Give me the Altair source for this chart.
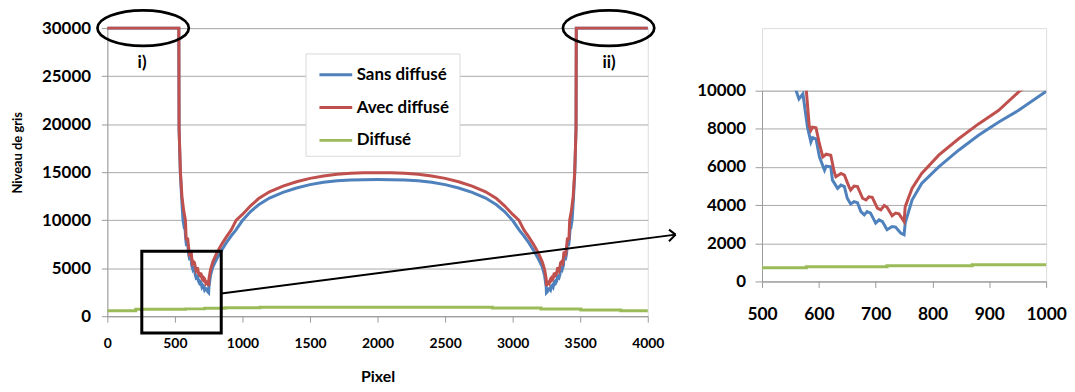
import altair as alt
import pandas as pd

FONT = "Lato"
GRID = "#a9a9a9"
AXIS = "#9a9a9a"

series_names = ["Sans diffusé", "Avec diffusé", "Diffusé"]
series_colors = ["#4F81BD", "#C0504D", "#9BBB59"]

# --- Sans diffusé (blue) ---
sans_x = [0, 529, 531, 540, 550, 560, 565, 572, 580, 586, 589, 595, 601, 610, 613, 621, 624, 633,
          639, 645, 650, 656, 662, 668, 674, 680, 685, 691, 700, 706, 712, 720, 729, 735, 744, 750,
          752, 764, 781, 811, 846, 881, 916, 951, 997, 1060, 1120, 1200, 1300, 1400, 1500, 1600,
          1700, 1800, 1900, 2000, 2100, 2200, 2300, 2400, 2500, 2600, 2700, 2800, 2880, 2940, 3003,
          3049, 3084, 3119, 3154, 3189, 3219, 3236, 3248, 3250, 3256, 3265, 3271, 3280, 3288, 3294,
          3300, 3309, 3315, 3320, 3326, 3332, 3338, 3344, 3350, 3355, 3361, 3367, 3376, 3379, 3387,
          3390, 3399, 3405, 3411, 3414, 3420, 3428, 3435, 3440, 3450, 3460, 3469, 3471, 4000]
sans_y = [30000, 30000, 19500, 15000, 12300, 10000, 9570, 9830, 8090, 7310, 7540, 7480, 6530, 5830,
          6040, 6010, 5310, 4880, 5050, 4970, 4360, 4060, 4180, 4130, 3660, 3490, 3660, 3580, 3060,
          3230, 3140, 2710, 2880, 2850, 2540, 2450, 3060, 4270, 5140, 6010, 6880, 7660, 8350, 8960,
          9910, 10900, 11600, 12300, 12900, 13350, 13700, 13950, 14100, 14180, 14220, 14230, 14220,
          14180, 14100, 13950, 13700, 13350, 12900, 12300, 11600, 10900, 9910, 8960, 8350, 7660,
          6880, 6010, 5140, 4270, 3060, 2450, 2540, 2850, 2880, 2710, 3140, 3230, 3060, 3580, 3660,
          3490, 3660, 4130, 4180, 4060, 4360, 4970, 5050, 4880, 5310, 6010, 6040, 5830, 6530, 7480,
          7540, 7310, 8090, 9830, 9570, 10000, 12300, 15000, 19500, 30000, 30000]

# --- Avec diffusé (red) ---
avec_x = [0, 529, 531, 541, 552, 565, 578, 583, 586, 589, 595, 601, 607, 613, 621, 627, 630, 639,
          645, 653, 656, 662, 668, 677, 683, 688, 694, 703, 709, 715, 720, 729, 735, 741, 750, 752,
          764, 781, 811, 846, 881, 916, 954, 1000, 1060, 1120, 1200, 1300, 1400, 1500, 1600, 1700,
          1800, 1900, 2000, 2100, 2200, 2300, 2400, 2500, 2600, 2700, 2800, 2880, 2940, 3000, 3046,
          3084, 3119, 3154, 3189, 3219, 3236, 3248, 3250, 3259, 3265, 3271, 3280, 3285, 3291, 3297,
          3306, 3312, 3317, 3323, 3332, 3338, 3344, 3347, 3355, 3361, 3370, 3373, 3379, 3387, 3393,
          3399, 3405, 3411, 3414, 3417, 3422, 3435, 3448, 3459, 3469, 3471, 4000]
avec_y = [30000, 30000, 19500, 15000, 12500, 11000, 10000, 8180, 7920, 8090, 8060, 7220, 6530, 6670,
          6620, 5750, 5490, 5660, 5570, 4970, 4790, 5000, 4970, 4360, 4270, 4440, 4410, 3840, 3750,
          3980, 3890, 3440, 3580, 3540, 3140, 3920, 4880, 5660, 6620, 7480, 8260, 8960, 10000, 10600,
          11500, 12250, 12950, 13550, 14000, 14350, 14600, 14780, 14880, 14930, 14950, 14930, 14880,
          14780, 14600, 14350, 14000, 13550, 12950, 12250, 11500, 10600, 10000, 8960, 8260, 7480,
          6620, 5660, 4880, 3920, 3140, 3540, 3580, 3440, 3890, 3980, 3750, 3840, 4410, 4440, 4270,
          4360, 4970, 5000, 4790, 4970, 5570, 5660, 5490, 5750, 6620, 6670, 6530, 7220, 8060, 8090,
          7920, 8180, 10000, 11000, 12500, 15000, 19500, 30000, 30000]

# --- Diffusé (green, stepwise) ---
diff_x = [0, 210, 578, 720, 870, 1130, 2850, 3210, 3505, 3800, 4000]
diff_y = [580, 715, 765, 818, 870, 929, 860, 740, 650, 580, 580]

# ticks
main_x_ticks = [0, 500, 1000, 1500, 2000, 2500, 3000, 3500, 4000]
main_y_ticks = [0, 5000, 10000, 15000, 20000, 25000, 30000]
inset_x_ticks = [500, 600, 700, 800, 900, 1000]
inset_y_ticks = [0, 2000, 4000, 6000, 8000, 10000]

# annotations (data coordinates of the main panel)
ellipse_x = [265, 3710]
ellipse_y = [30000, 30000]
label_text = ["i)", "ii)"]
label_x = [257, 3713]
label_y = [26355, 26355]
box_x = [255]
box_x2 = [843]
box_y = [-1755]
box_y2 = [6772]
arrow_x = [843, 4157, 4157]
arrow_y = [2374, 9012, 7804]
arrow_x2 = [4206, 4206, 4206]
arrow_y2 = [8496, 8496, 8496]

ELLIPSE = ("M -1 0 C -1 -0.215 -0.5523 -0.39 0 -0.39 C 0.5523 -0.39 1 -0.215 1 0 "
           "C 1 0.215 0.5523 0.39 0 0.39 C -0.5523 0.39 -1 0.215 -1 0 Z")

df_sans = pd.DataFrame({"x": sans_x, "v": sans_y, "series": series_names[0]})
df_avec = pd.DataFrame({"x": avec_x, "v": avec_y, "series": series_names[1]})
df_diff = pd.DataFrame({"x": diff_x, "v": diff_y, "series": series_names[2]})

lab = dict(labelFont=FONT, labelFontWeight="bold", labelColor="#000000")

X_main = alt.X("x:Q", scale=alt.Scale(domain=[0, 4000], nice=False),
               axis=alt.Axis(values=main_x_ticks, format="d", grid=False, domainColor=AXIS,
                             tickColor=AXIS, tickSize=6, labelFontSize=14, labelPadding=14,
                             labelFlush=False, labelOverlap=False,
                             title="Pixel", titleFont=FONT, titleFontSize=16, titleFontWeight="bold",
                             titleColor="#000000", titleY=60.5, titleBaseline="middle", **lab))
Y_main = alt.Y("v:Q", scale=alt.Scale(domain=[0, 30000], nice=False),
               axis=alt.Axis(values=main_y_ticks, format="d", grid=True, gridColor=GRID,
                             domainColor=AXIS, tickColor=AXIS, tickSize=6, labelFontSize=17,
                             labelPadding=11, title="Niveau de gris", titleFont=FONT,
                             titleFontSize=13, titleFontWeight="bold", titleColor="#000000",
                             titleX=-90, titleY=125, titleBaseline="middle", titleAlign="center",
                             **lab))

legend_main = alt.Legend(orient="none", legendX=212, legendY=29, title=None, symbolType="stroke",
                         symbolSize=1089, symbolStrokeWidth=3, labelFont=FONT, labelFontSize=17,
                         labelFontWeight="bold", labelColor="#000000", labelOffset=3, rowPadding=7,
                         padding=0)
color_main = alt.Color("series:N", scale=alt.Scale(domain=series_names, range=series_colors),
                       legend=legend_main)

legend_box = alt.Chart(pd.DataFrame({"a": [0]})).mark_rect(
    fill="white", stroke="#d9d9d9", strokeWidth=1).encode(
    x=alt.value(200), x2=alt.value(355), y=alt.value(26), y2=alt.value(129))

blue = alt.Chart(df_sans).mark_line(strokeWidth=3).encode(x=X_main, y=Y_main, color=color_main)
red = alt.Chart(df_avec).mark_line(strokeWidth=3).encode(x=X_main, y=Y_main, color=color_main)
green = alt.Chart(df_diff).mark_line(strokeWidth=3, interpolate="step-after").encode(
    x=X_main, y=Y_main, color=color_main)

ell = alt.Chart(pd.DataFrame({"x": ellipse_x, "v": ellipse_y})).mark_point(
    shape=ELLIPSE, size=8464, filled=False, color="black", strokeWidth=2.7, opacity=1).encode(
    x=X_main, y=Y_main)
txt = alt.Chart(pd.DataFrame({"x": label_x, "v": label_y, "t": label_text})).mark_text(
    font=FONT, fontSize=17, fontWeight="bold", color="black").encode(x=X_main, y=Y_main, text="t:N")
box = alt.Chart(pd.DataFrame({"x": box_x, "x2": box_x2, "v": box_y, "v2": box_y2})).mark_rect(
    fill="transparent", stroke="black", strokeWidth=3).encode(
    x=X_main, x2="x2:Q", y=Y_main, y2="v2:Q")
arrow = alt.Chart(pd.DataFrame({"x": arrow_x, "v": arrow_y, "x2": arrow_x2, "v2": arrow_y2})).mark_rule(
    color="black", strokeWidth=2).encode(x=X_main, x2="x2:Q", y=Y_main, y2="v2:Q")

main = alt.layer(legend_box, blue, red, green, box, ell, txt, arrow).properties(width=544, height=290)

# --- inset ---
X_in = alt.X("x:Q", scale=alt.Scale(domain=[500, 1000], nice=False),
             axis=alt.Axis(values=inset_x_ticks, format="d", grid=False, domainColor=AXIS,
                           tickColor=AXIS, tickSize=6, labelFontSize=17.5, labelPadding=18,
                           labelFlush=False, labelOverlap=False, title=None, **lab))
Y_in = alt.Y("v:Q", scale=alt.Scale(domain=[0, 10000], nice=False),
             axis=alt.Axis(values=inset_y_ticks, format="d", grid=True, gridColor=GRID,
                           domainColor=AXIS, tickColor=AXIS, tickSize=7, labelFontSize=17,
                           labelPadding=9.5, title=None, **lab))
color_in = alt.Color("series:N", scale=alt.Scale(domain=series_names, range=series_colors),
                     legend=None)

blue_i = alt.Chart(df_sans).mark_line(strokeWidth=3, clip=True).encode(x=X_in, y=Y_in, color=color_in)
red_i = alt.Chart(df_avec).mark_line(strokeWidth=3, clip=True).encode(x=X_in, y=Y_in, color=color_in)
green_i = alt.Chart(df_diff).mark_line(strokeWidth=3, clip=True, interpolate="step-after").encode(
    x=X_in, y=Y_in, color=color_in)
inset = alt.layer(blue_i, red_i, green_i).properties(width=286, height=192)

spacer = alt.Chart(pd.DataFrame({"a": [0]})).mark_point(opacity=0).encode(
    x=alt.value(0), y=alt.value(0)).properties(width=286, height=63)

right = alt.vconcat(spacer, inset, spacing=0, bounds="flush")

chart = alt.hconcat(main, right, spacing=115, bounds="flush").resolve_scale(
    x="independent", y="independent", color="independent").resolve_legend(
    color="independent").properties(
    padding={"left": 3, "top": -5, "right": 0, "bottom": 0}).configure_view(
    stroke="transparent").configure(font=FONT)

chart.save("out.html", embed_options={"renderer": "svg", "actions": False})
